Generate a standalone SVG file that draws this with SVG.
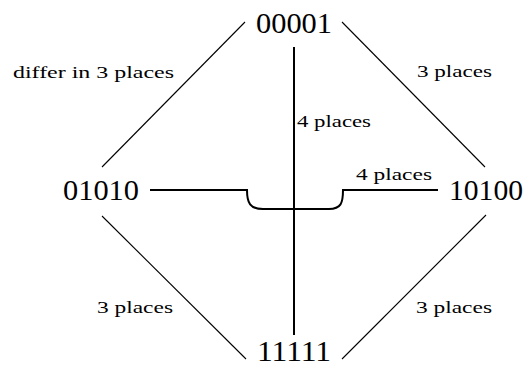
<svg xmlns="http://www.w3.org/2000/svg" width="525" height="369" viewBox="0 0 525 369">
<style>
text{font-family:'Liberation Serif','DejaVu Serif','Times New Roman',serif;fill:#000}
.node{font-size:29px}
.lbl{font-size:17px}
.thin{stroke:#000;stroke-width:1.1;fill:none}
.thick{stroke:#000;stroke-width:2;fill:none}
</style>
<rect width="525" height="369" fill="#fff"/>
<g id="connectors">
<line class="thin" x1="102" y1="167" x2="245" y2="22"/>
<line class="thin" x1="342" y1="22" x2="485" y2="167"/>
<line class="thin" x1="102" y1="216" x2="246" y2="359"/>
<line class="thin" x1="486" y1="215" x2="342" y2="359"/>
<line class="thick" x1="294" y1="47" x2="294" y2="335"/>
<path class="thick" d="M150,190 H247 C247,203 250,209 263,209 H329 C341,209 343,203 343,190 H438"/>
<text class="lbl" x="13" y="78" textLength="161" lengthAdjust="spacingAndGlyphs">differ in 3 places</text>
<text class="lbl" x="417" y="77" textLength="75" lengthAdjust="spacingAndGlyphs">3 places</text>
<text class="lbl" x="297" y="127" textLength="74" lengthAdjust="spacingAndGlyphs">4 places</text>
<text class="lbl" x="356" y="180" textLength="76" lengthAdjust="spacingAndGlyphs">4 places</text>
<text class="lbl" x="97" y="313" textLength="76" lengthAdjust="spacingAndGlyphs">3 places</text>
<text class="lbl" x="416" y="313" textLength="76" lengthAdjust="spacingAndGlyphs">3 places</text>
</g>
<g id="n00001"><text class="node" x="256" y="33" textLength="76" lengthAdjust="spacingAndGlyphs">00001</text></g>
<g id="n01010"><text class="node" x="63" y="200" textLength="76" lengthAdjust="spacingAndGlyphs">01010</text></g>
<g id="n10100"><text class="node" x="449" y="200" textLength="74" lengthAdjust="spacingAndGlyphs">10100</text></g>
<g id="n11111"><text class="node" x="257" y="361" textLength="74" lengthAdjust="spacingAndGlyphs">11111</text></g>
</svg>
